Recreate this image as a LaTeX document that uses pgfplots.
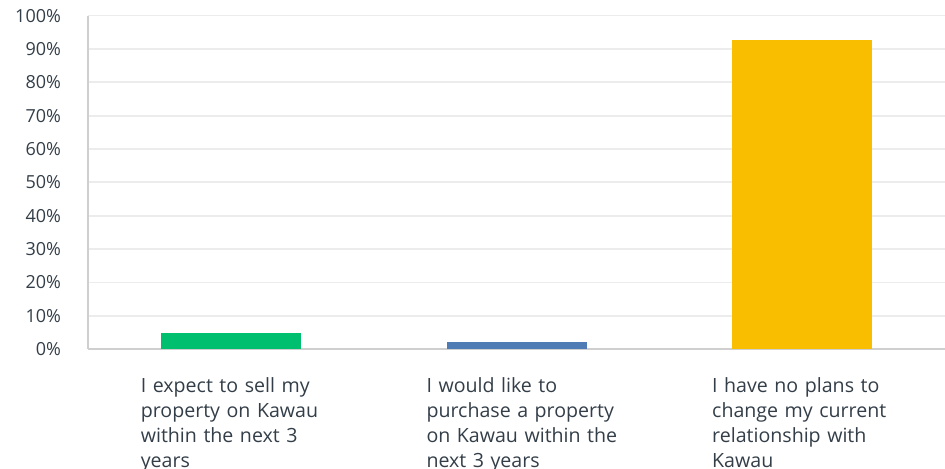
\documentclass[border=0pt]{standalone}
\usepackage{fontspec}
\setmainfont{Open Sans}
\usepackage{pgfplots}
\pgfplotsset{compat=1.18}

\definecolor{smgreen}{HTML}{00BF6F}
\definecolor{smblue}{HTML}{507CB6}
\definecolor{smyellow}{HTML}{F9BE00}
\definecolor{smtext}{HTML}{333E48}
\definecolor{smgrid}{HTML}{ECECEC}
\definecolor{smaxis}{HTML}{CFCFCF}

\begin{document}
\begin{tikzpicture}
\begin{axis}[
  scale only axis,
  width=428.5pt,
  height=166.8pt,
  xmin=-0.5, xmax=2.5,
  ymin=0, ymax=100,
  axis x line*=bottom,
  axis y line*=left,
  x axis line style={-, draw=smaxis, line width=1.2pt},
  y axis line style={-, draw=smaxis, line width=0.8pt},
  ytick={0,10,...,100},
  yticklabels={0\%,10\%,20\%,30\%,40\%,50\%,60\%,70\%,80\%,90\%,100\%},
  xtick={0,1,2},
  xticklabels={
    {I expect to sell my\\property on Kawau\\within the next 3\\years},
    {I would like to\\purchase a property\\on Kawau within the\\next 3 years},
    {I have no plans to\\change my current\\relationship with\\Kawau}},
  major tick length=0pt,
  ymajorgrids,
  grid style={draw=smgrid, line width=0.9pt},
  tick label style={text=smtext},
  yticklabel style={font=\fontsize{9}{12.5}\selectfont, xshift=-10pt},
  xticklabel style={font=\fontsize{9.8}{12.5}\selectfont, text width=98pt,
    align=left, anchor=north, xshift=4pt, yshift=-10.5pt},
  /pgf/number format/assume math mode=true,
  clip=false,
]
\addplot[ybar, bar width=70pt, bar shift=0pt, fill=smgreen, draw=none] coordinates {(0,4.9)};
\addplot[ybar, bar width=70pt, bar shift=0pt, fill=smblue, draw=none] coordinates {(1,2.3)};
\addplot[ybar, bar width=70pt, bar shift=0pt, fill=smyellow, draw=none] coordinates {(2,92.7)};
\coordinate (sw) at (rel axis cs:0,0);
\coordinate (ne) at (rel axis cs:1,1);
\end{axis}
\pgfresetboundingbox
\path ([xshift=-44pt,yshift=-59.8pt]sw) rectangle ([yshift=7.8pt]ne);
\end{tikzpicture}
\end{document}
